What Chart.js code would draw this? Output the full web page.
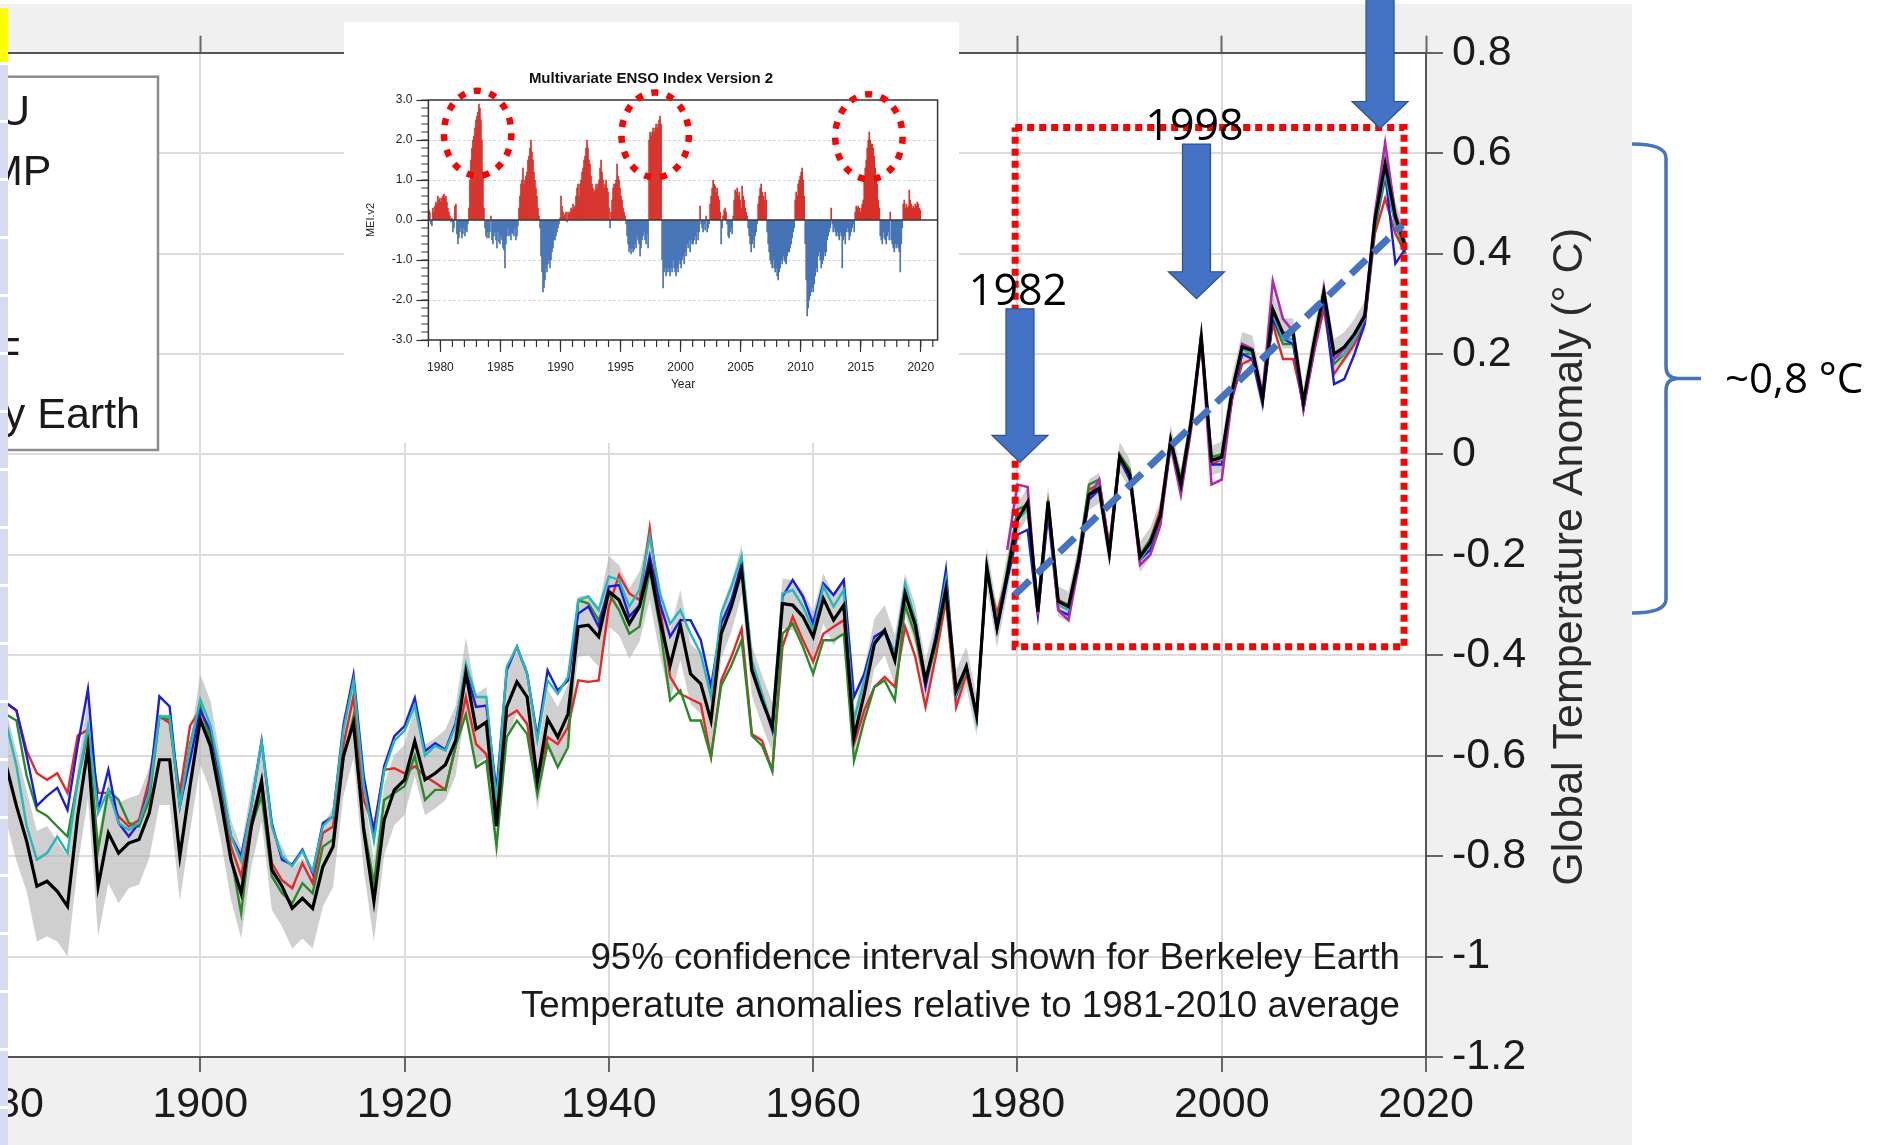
<!DOCTYPE html>
<html lang="en">
<head>
<meta charset="UTF-8">
<title>Global Temperature Anomaly and ENSO</title>
<script src="https://cdn.jsdelivr.net/npm/chart.js"></script>
<style>
  html, body { margin: 0; padding: 0; }
  body { width: 1879px; height: 1145px; overflow: hidden; position: relative; background: #fff; }
  #panel { position: absolute; left: 0; top: 4px; width: 1632px; height: 1141px; background: #f0f0f0; }
  #mainWrap { position: absolute; left: -200px; top: 0; width: 2079px; height: 1145px; }
  #stripTop { position: absolute; left: 0; top: 8px; width: 8px; height: 54px; background: #ffff00; }
  #strip { position: absolute; left: 0; top: 65px; width: 8px; height: 1080px;
           background: repeating-linear-gradient(to bottom, #d5dbf1 0 55px, #ffffff 55px 58px); }
  #inset { position: absolute; left: 344px; top: 22px; width: 615px; height: 421px; background: #fff; }
</style>
</head>
<body>
<div id="panel"></div>
<div id="mainWrap"><canvas id="tempChart" width="2079" height="1145"></canvas></div>
<div id="stripTop"></div>
<div id="strip"></div>
<div id="inset"><canvas id="meiChart" width="615" height="421"></canvas></div>

<script>
// ---- global temperature anomalies (°C, relative to 1981-2010), annual, from 1880 ----
const firstYear = 1880;

const berkeley = [
  -0.56, -0.62, -0.70, -0.77, -0.86, -0.85, -0.87, -0.90, -0.72, -0.585,
  -0.86, -0.754, -0.794, -0.774, -0.767, -0.714, -0.608, -0.608, -0.80, -0.66,
  -0.528, -0.581, -0.688, -0.807, -0.874, -0.741, -0.651, -0.827, -0.86, -0.904,
  -0.884, -0.904, -0.821, -0.781, -0.601, -0.535, -0.748, -0.89, -0.728, -0.668,
  -0.648, -0.571, -0.648, -0.635, -0.618, -0.57, -0.435, -0.547, -0.533, -0.74,
  -0.503, -0.453, -0.483, -0.65, -0.527, -0.563, -0.517, -0.343, -0.34, -0.363,
  -0.273, -0.29, -0.337, -0.303, -0.22, -0.33, -0.42, -0.34, -0.437, -0.457,
  -0.53, -0.357, -0.303, -0.23, -0.43, -0.49, -0.543, -0.297, -0.30, -0.323,
  -0.363, -0.287, -0.33, -0.30, -0.563, -0.477, -0.377, -0.35, -0.41, -0.277,
  -0.34, -0.45, -0.37, -0.268, -0.47, -0.423, -0.52, -0.225, -0.345, -0.24,
  -0.13, -0.095, -0.313, -0.094, -0.293, -0.303, -0.21, -0.08, -0.067, -0.197,
  -0.005, -0.04, -0.204, -0.176, -0.122, 0.029, -0.06, 0.063, 0.234, -0.012,
  -0.005, 0.125, 0.214, 0.207, 0.111, 0.289, 0.241, 0.241, 0.104, 0.22,
  0.323, 0.2, 0.214, 0.24, 0.275, 0.467, 0.579, 0.473, 0.412
];

// half width of the Berkeley Earth 95% interval
const berkeleyUnc = [
  0.11, 0.11, 0.11, 0.10, 0.11, 0.11, 0.10, 0.10, 0.10, 0.10,
  0.10, 0.10, 0.10, 0.09, 0.09, 0.09, 0.09, 0.09, 0.09, 0.09,
  0.09, 0.09, 0.08, 0.08, 0.09, 0.08, 0.08, 0.08, 0.08, 0.08,
  0.08, 0.08, 0.08, 0.08, 0.08, 0.07, 0.08, 0.08, 0.07, 0.07,
  0.07, 0.07, 0.07, 0.07, 0.07, 0.07, 0.07, 0.07, 0.07, 0.07,
  0.07, 0.06, 0.06, 0.06, 0.06, 0.06, 0.06, 0.06, 0.06, 0.06,
  0.07, 0.07, 0.07, 0.07, 0.07, 0.07, 0.07, 0.07, 0.06, 0.06,
  0.06, 0.05, 0.05, 0.05, 0.05, 0.05, 0.05, 0.05, 0.05, 0.05,
  0.05, 0.05, 0.05, 0.05, 0.05, 0.05, 0.05, 0.05, 0.05, 0.04,
  0.04, 0.04, 0.04, 0.04, 0.04, 0.04, 0.04, 0.04, 0.04, 0.04,
  0.03, 0.03, 0.03, 0.03, 0.03, 0.03, 0.03, 0.03, 0.03, 0.03,
  0.03, 0.03, 0.03, 0.03, 0.03, 0.03, 0.03, 0.03, 0.03, 0.03,
  0.03, 0.03, 0.03, 0.03, 0.03, 0.03, 0.03, 0.03, 0.03, 0.03,
  0.03, 0.03, 0.03, 0.03, 0.03, 0.03, 0.03, 0.03, 0.03
];

const gistemp = [
  -0.48, -0.495, -0.51, -0.60, -0.70, -0.68, -0.664, -0.708, -0.58, -0.468,
  -0.708, -0.628, -0.734, -0.761, -0.734, -0.668, -0.482, -0.502, -0.70, -0.608,
  -0.51, -0.55, -0.65, -0.76, -0.80, -0.70, -0.571, -0.734, -0.807, -0.817,
  -0.787, -0.834, -0.734, -0.721, -0.541, -0.439, -0.641, -0.754, -0.621, -0.561,
  -0.541, -0.485, -0.591, -0.575, -0.588, -0.535, -0.43, -0.503, -0.50, -0.67,
  -0.43, -0.383, -0.437, -0.563, -0.43, -0.47, -0.45, -0.317, -0.303, -0.343,
  -0.263, -0.26, -0.323, -0.30, -0.203, -0.297, -0.363, -0.33, -0.33, -0.37,
  -0.463, -0.337, -0.29, -0.217, -0.423, -0.483, -0.55, -0.283, -0.25, -0.283,
  -0.337, -0.257, -0.28, -0.25, -0.483, -0.437, -0.363, -0.35, -0.397, -0.27,
  -0.33, -0.463, -0.36, -0.23, -0.48, -0.42, -0.52, -0.225, -0.35, -0.25,
  -0.16, -0.15, -0.32, -0.12, -0.31, -0.32, -0.22, -0.09, -0.07, -0.2,
  -0.01, -0.05, -0.21, -0.19, -0.13, 0.02, -0.07, 0.06, 0.24, -0.02,
  -0.02, 0.11, 0.2, 0.19, 0.1, 0.27, 0.23, 0.22, 0.09, 0.21,
  0.31, 0.14, 0.15, 0.2, 0.26, 0.46, 0.56, 0.38, 0.41
];

const hadcru = [
  -0.48, -0.495, -0.51, -0.59, -0.635, -0.648, -0.635, -0.674, -0.56, -0.548,
  -0.674, -0.674, -0.721, -0.741, -0.728, -0.648, -0.522, -0.535, -0.674, -0.54,
  -0.508, -0.56, -0.66, -0.78, -0.84, -0.728, -0.648, -0.814, -0.848, -0.864,
  -0.814, -0.854, -0.754, -0.741, -0.58, -0.482, -0.688, -0.741, -0.628, -0.625,
  -0.635, -0.621, -0.641, -0.654, -0.668, -0.581, -0.483, -0.577, -0.597, -0.70,
  -0.523, -0.51, -0.537, -0.65, -0.563, -0.577, -0.543, -0.45, -0.453, -0.45,
  -0.303, -0.24, -0.277, -0.29, -0.147, -0.303, -0.443, -0.477, -0.487, -0.497,
  -0.603, -0.45, -0.403, -0.347, -0.557, -0.57, -0.63, -0.383, -0.323, -0.37,
  -0.413, -0.357, -0.343, -0.33, -0.577, -0.51, -0.463, -0.443, -0.463, -0.343,
  -0.403, -0.503, -0.403, -0.29, -0.503, -0.437, -0.517, -0.237, -0.317, -0.24,
  -0.12, -0.11, -0.31, -0.10, -0.29, -0.30, -0.21, -0.07, -0.06, -0.18,
  0.0, -0.04, -0.2, -0.17, -0.11, 0.03, -0.05, 0.07, 0.22, -0.02,
  -0.01, 0.11, 0.18, 0.19, 0.12, 0.26, 0.19, 0.19, 0.1, 0.2,
  0.29, 0.16, 0.19, 0.22, 0.26, 0.44, 0.51, 0.44, 0.40
];

const noaa = [
  -0.50, -0.518, -0.53, -0.64, -0.708, -0.72, -0.741, -0.761, -0.65, -0.555,
  -0.787, -0.668, -0.688, -0.734, -0.741, -0.688, -0.522, -0.528, -0.70, -0.575,
  -0.502, -0.57, -0.68, -0.80, -0.914, -0.741, -0.68, -0.84, -0.874, -0.894,
  -0.854, -0.874, -0.781, -0.767, -0.608, -0.522, -0.741, -0.854, -0.688, -0.674,
  -0.661, -0.60, -0.688, -0.668, -0.668, -0.581, -0.517, -0.623, -0.61, -0.78,
  -0.563, -0.53, -0.557, -0.677, -0.577, -0.623, -0.583, -0.29, -0.297, -0.33,
  -0.277, -0.31, -0.357, -0.343, -0.23, -0.343, -0.49, -0.47, -0.53, -0.53,
  -0.603, -0.46, -0.42, -0.37, -0.56, -0.58, -0.63, -0.357, -0.337, -0.383,
  -0.437, -0.37, -0.37, -0.357, -0.61, -0.53, -0.463, -0.45, -0.49, -0.30,
  -0.36, -0.46, -0.38, -0.28, -0.48, -0.43, -0.52, -0.23, -0.34, -0.23,
  -0.11, -0.10, -0.30, -0.09, -0.29, -0.30, -0.2, -0.06, -0.05, -0.19,
  0.0, -0.03, -0.2, -0.17, -0.12, 0.03, -0.05, 0.07, 0.23, -0.005,
  0.0, 0.12, 0.2, 0.2, 0.11, 0.27, 0.22, 0.22, 0.1, 0.21,
  0.31, 0.18, 0.2, 0.23, 0.27, 0.45, 0.55, 0.46, 0.40
];

const cowtanWay = [
  -0.50, -0.535, -0.62, -0.74, -0.807, -0.794, -0.761, -0.794, -0.65, -0.541,
  -0.714, -0.668, -0.734, -0.748, -0.734, -0.674, -0.522, -0.522, -0.70, -0.581,
  -0.488, -0.54, -0.64, -0.76, -0.81, -0.70, -0.571, -0.741, -0.80, -0.82,
  -0.79, -0.83, -0.74, -0.72, -0.55, -0.45, -0.66, -0.77, -0.63, -0.57,
  -0.55, -0.50, -0.60, -0.58, -0.59, -0.54, -0.417, -0.483, -0.483, -0.69,
  -0.423, -0.383, -0.437, -0.57, -0.45, -0.477, -0.443, -0.29, -0.283, -0.31,
  -0.243, -0.25, -0.303, -0.27, -0.163, -0.277, -0.337, -0.31, -0.357, -0.397,
  -0.483, -0.317, -0.263, -0.203, -0.41, -0.477, -0.543, -0.277, -0.27, -0.303,
  -0.35, -0.263, -0.303, -0.27, -0.53, -0.45, -0.37, -0.357, -0.397, -0.257,
  -0.33, -0.45, -0.363, -0.25, -0.477, -0.423, -0.53, -0.217, -0.337, -0.24,
  -0.13, -0.11, -0.31, -0.10, -0.30, -0.31, -0.21, -0.08, -0.06, -0.19,
  -0.01, -0.04, -0.21, -0.18, -0.125, 0.025, -0.06, 0.06, 0.23, -0.01,
  -0.01, 0.12, 0.21, 0.2, 0.11, 0.28, 0.23, 0.23, 0.1, 0.21,
  0.32, 0.19, 0.2, 0.23, 0.27, 0.46, 0.56, 0.46, 0.41
];

// reanalysis, only from 1979
const ecmwfStart = 1979;
const ecmwf = [
  -0.19, -0.06, -0.065, -0.32, -0.10, -0.31, -0.33, -0.22, -0.085, -0.05,
  -0.19, -0.005, -0.04, -0.22, -0.20, -0.14, 0.02, -0.08, 0.05, 0.23,
  -0.06, -0.05, 0.11, 0.22, 0.21, 0.12, 0.345, 0.27, 0.245, 0.09,
  0.2, 0.33, 0.19, 0.21, 0.24, 0.28, 0.48, 0.62, 0.48, 0.42
];

const legendLabels = ['HadCRU', 'GISTEMP', 'NOAA', 'JMA', 'ECMWF', 'Berkeley Earth'];
const notes = [
  '95% confidence interval shown for Berkeley Earth',
  'Temperatute anomalies relative to 1981-2010 average'
];

// annotations on the recent period
const trendYears = [1979.72, 2017.7];
const trendValues = [-0.28, 0.457];
const boxYears = [1979.78, 2017.85];
const boxValues = [0.651, -0.383];
const arrowYears = [1980.25, 1997.53, 2015.5];
const arrowTips = [-0.016, 0.31, 0.649];
const arrowTops = [0.29, 0.618, 0.95];
const arrowLabels = ['1982', '1998', ''];
const braceValues = [0.618, -0.316];
const braceLabel = '~0,8 °C';
const yTitle = 'Global Temperature Anomaly (° C)';

// ---- Multivariate ENSO Index v2, monthly from Jan 1979 ----
const meiStart = 1979;
const meiV2 = [
  0.25, 0.2, -0.1, -0.15, 0.3, 0.2, 0.35, 0.45, 0.4, 0.6, 0.5, 0.55,
  0.45, 0.55, 0.6, 0.65, 0.55, 0.6, 0.45, 0.3, 0.2, 0.1, -0.05, 0.05,
  -0.3, -0.2, 0.35, 0.4, -0.35, -0.6, -0.45, -0.3, -0.2, -0.45, -0.35, -0.2,
  -0.4, -0.25, -0.3, -0.1, 0.3, 1.0, 1.5, 1.8, 2.0, 2.1, 2.3, 2.5,
  2.6, 2.7, 2.9, 2.8, 2.5, 2.0, 1.2, 0.3, -0.2, -0.4, -0.45, -0.3,
  -0.45, -0.3, 0.1, -0.5, -0.6, -0.4, -0.3, -0.5, -0.7, -0.3, -0.55, -0.6,
  -0.4, -0.5, -0.7, -0.75, -1.2, -0.6, -0.4, -0.2, -0.4, -0.35, -0.5, -0.3,
  -0.35, -0.4, -0.2, -0.5, -0.4, -0.15, 0.3, 0.6, 0.9, 1.0, 1.3, 0.9,
  1.0, 1.1, 1.2, 1.5, 1.6, 1.8, 2.0, 1.7, 1.5, 1.2, 1.0, 0.8,
  0.6, 0.3, 0.1, -0.2, -0.9, -1.3, -1.8, -1.7, -1.5, -1.2, -1.3, -1.1,
  -1.0, -1.2, -1.0, -0.8, -0.7, -0.5, -0.5, -0.4, -0.3, -0.2, -0.1, 0.05,
  0.6, 0.35, 0.2, 0.1, 0.15, 0.2, -0.05, 0.2, 0.15, 0.2, 0.3, 0.25,
  0.4, 0.3, 0.35, 0.6, 0.8, 0.9, 0.6, 0.9, 1.0, 1.2, 1.3, 1.5,
  1.6, 1.8, 2.0, 1.8, 1.5, 1.4, 1.1, 0.9, 0.8, 0.7, 0.75, 0.9,
  0.8, 0.9, 1.0, 1.3, 1.5, 1.2, 1.0, 0.8, 0.9, 1.0, 0.8, 0.7,
  0.3, -0.2, 0.2, 0.5, 0.8, 0.9, 0.9, 1.0, 1.4, 1.1, 1.0, 0.8,
  0.6, 0.5, 0.3, 0.2, 0.1, -0.1, -0.4, -0.6, -0.8, -0.7, -0.85, -0.7,
  -0.8, -0.75, -0.6, -0.7, -0.4, -0.5, -0.6, -0.9, -0.7, -0.5, -0.4, -0.3,
  -0.5, -0.6, -0.35, -0.7, 2.0, 2.2, 2.1, 2.2, 2.3, 2.2, 2.3, 2.4,
  2.3, 2.4, 2.5, 2.6, 2.4, -1.0, -1.7, -1.3, -1.2, -1.4, -1.3, -1.2,
  -1.3, -1.4, -1.2, -1.3, -1.0, -1.2, -1.3, -1.4, -1.2, -1.3, -1.0, -1.1,
  -1.2, -1.0, -0.9, -1.1, -0.8, -0.9, -0.6, -0.7, -0.5, -0.8, -0.5, -0.6,
  -0.6, -0.5, -0.4, -0.6, -0.3, -0.5, -0.3, 0.35, -0.1, -0.2, -0.3, -0.1,
  -0.25, 0.1, -0.3, -0.2, -0.1, 0.4, 0.6, 0.8, 1.0, 0.9, 0.85, 0.7,
  0.8, 0.6, 0.5, 0.2, -0.6, -0.2, 0.1, 0.25, 0.3, 0.2, -0.1, -0.4,
  -0.45, -0.3, -0.2, -0.35, 0.1, 0.5, 0.75, 0.7, 0.8, 0.6, 0.7, 0.5,
  0.3, 0.85, 0.6, 0.5, 0.3, 0.2, 0.1, -0.2, -0.4, -0.6, -0.8, -0.6,
  -0.5, -0.7, -0.4, -0.3, -0.1, 0.4, 0.6, 0.8, 0.9, 0.7, 0.6, 0.5,
  0.7, 0.5, -0.3, -0.6, -0.8, -1.0, -1.1, -1.2, -1.0, -1.2, -1.3, -1.2,
  -1.4, -1.5, -1.3, -1.2, -1.0, -1.1, -0.9, -1.0, -1.05, -1.1, -0.9, -0.8,
  -0.8, -0.7, -0.6, -0.45, -0.3, -0.2, 0.5, 0.7, 0.6, 0.9, 1.0, 1.1,
  1.2, 1.3, 1.0, 0.6, -0.6, -1.5, -2.4, -2.2, -2.0, -1.9, -1.8, -1.7,
  -1.8, -1.6, -1.4, -1.2, -1.3, -0.9, -0.8, -1.0, -1.2, -1.1, -1.0, -0.8,
  -0.9, -0.8, -0.5, -0.4, -0.3, -0.2, 0.3, -0.1, -0.3, -0.2, -0.3, -0.4,
  -0.3, -0.4, -0.5, -0.3, -0.4, -1.2, -0.5, -0.4, -0.6, -0.3, -0.2, -0.3,
  -0.5, -0.4, -0.3, -0.2, -0.1, -0.3, 0.2, 0.35, 0.3, 0.35, 0.3, 0.2,
  0.3, 0.4, 0.5, 1.0, 1.3, 1.5, 1.8, 2.0, 2.2, 2.0, 1.9, 1.9,
  1.8, 1.6, 1.3, 1.1, 0.9, 0.5, 0.3, -0.4, -0.5, -0.6, -0.3, -0.45,
  -0.5, -0.6, -0.4, -0.3, -0.5, 0.2, -0.5, -0.6, -0.7, -0.8, -0.6, -0.7,
  -0.6, -0.7, -0.8, -1.3, -0.6, -0.2, 0.4, 0.5, 0.3, 0.4, 0.3, 0.35,
  0.75, 0.5, 0.4, 0.3, 0.35, 0.3, 0.4, 0.35, 0.45, 0.4, 0.3, 0.25
];
const meiGridValues = [-2, -1, 1, 2];
const circleYears = [1983.1, 1997.88, 2015.68];
const circleValues = [2.17, 2.125, 2.08];

// ---------------------------------------------------------------
Chart.defaults.font.family = '"Liberation Sans", Arial, sans-serif';

const years = berkeley.map((_, i) => firstYear + i);
const toPoints = arr => arr.map((v, i) => ({ x: years[i], y: v }));
const band = sign => berkeley.map((v, i) => ({ x: years[i], y: v + sign * berkeleyUnc[i] }));

const boxPath = [
  { x: boxYears[0], y: boxValues[0] }, { x: boxYears[1], y: boxValues[0] },
  { x: boxYears[1], y: boxValues[1] }, { x: boxYears[0], y: boxValues[1] },
  { x: boxYears[0], y: boxValues[0] }
];

function series(label, data, color, width, order, dash) {
  return { label, data, borderColor: color, borderWidth: width, pointRadius: 0, tension: 0,
           fill: false, order, borderDash: dash || [], borderCapStyle: 'butt', borderJoinStyle: 'miter' };
}

function drawArrow(ctx, cx, top, tip) {
  const sw = 14, hw = 28, hh = 27;
  ctx.beginPath();
  ctx.moveTo(cx - sw, top);
  ctx.lineTo(cx + sw, top);
  ctx.lineTo(cx + sw, tip - hh);
  ctx.lineTo(cx + hw, tip - hh);
  ctx.lineTo(cx, tip);
  ctx.lineTo(cx - hw, tip - hh);
  ctx.lineTo(cx - sw, tip - hh);
  ctx.closePath();
  ctx.fillStyle = '#4472c4';
  ctx.fill();
  ctx.strokeStyle = '#2f528f';
  ctx.lineWidth = 1.2;
  ctx.stroke();
}

const tempDecor = {
  id: 'tempDecor',
  beforeDraw(chart) {
    const { ctx, chartArea: a } = chart;
    ctx.save();
    ctx.fillStyle = '#ffffff';
    ctx.fillRect(a.left, a.top, a.right - a.left, a.bottom - a.top);
    ctx.restore();
  },
  afterDraw(chart) {
    const { ctx, chartArea: a, scales: { x, y } } = chart;
    ctx.save();

    // footnotes
    ctx.font = '36.7px "Liberation Sans", Arial, sans-serif';
    ctx.fillStyle = '#1a1a1a';
    ctx.textAlign = 'right';
    ctx.textBaseline = 'middle';
    ctx.fillText(notes[0], a.right - 26, a.bottom - 98);
    ctx.fillText(notes[1], a.right - 26, a.bottom - 50);

    // legend box
    ctx.fillStyle = '#ffffff';
    ctx.fillRect(0, 76.7, 358, 373.3);
    ctx.strokeStyle = '#8c8c8c';
    ctx.lineWidth = 2.5;
    ctx.strokeRect(-5, 76.7, 363, 373.3);
    ctx.font = '43px "Liberation Sans", Arial, sans-serif';
    ctx.fillStyle = '#1a1a1a';
    ctx.textAlign = 'left';
    legendLabels.forEach((t, i) => ctx.fillText(t, 58, 113 + i * 60.6));

    // y axis title, reading upwards
    ctx.save();
    ctx.translate(a.right + 144, (a.top + a.bottom) / 2 + 2);
    ctx.rotate(-Math.PI / 2);
    ctx.textAlign = 'center';
    ctx.fillStyle = '#2b2b2b';
    ctx.fillText(yTitle, 0, 0);
    ctx.restore();

    // arrows and their years
    arrowYears.forEach((yr, i) => {
      const cx = x.getPixelForValue(yr);
      const top = y.getPixelForValue(arrowTops[i]);
      drawArrow(ctx, cx, top, y.getPixelForValue(arrowTips[i]));
      if (arrowLabels[i]) {
        ctx.font = '43px "Open Sans", sans-serif';
        ctx.fillStyle = '#000';
        ctx.textAlign = 'center';
        ctx.textBaseline = 'alphabetic';
        ctx.fillText(arrowLabels[i], cx - 2, top - 4);
      }
    });

    // brace spanning the rise
    const yTop = y.getPixelForValue(braceValues[0]);
    const yBot = y.getPixelForValue(braceValues[1]);
    const yMid = (yTop + yBot) / 2;
    const x0 = a.right + 206, xv = a.right + 240, xt = a.right + 275;
    ctx.beginPath();
    ctx.moveTo(x0, yTop);
    ctx.quadraticCurveTo(xv, yTop, xv, yTop + 14);
    ctx.lineTo(xv, yMid - 12);
    ctx.quadraticCurveTo(xv, yMid, xv + 12, yMid);
    ctx.lineTo(xt, yMid);
    ctx.moveTo(xv + 12, yMid);
    ctx.quadraticCurveTo(xv, yMid, xv, yMid + 12);
    ctx.lineTo(xv, yBot - 14);
    ctx.quadraticCurveTo(xv, yBot, x0, yBot);
    ctx.strokeStyle = '#4472c4';
    ctx.lineWidth = 3.5;
    ctx.stroke();

    ctx.font = '42px "Open Sans", sans-serif';
    ctx.fillStyle = '#000';
    ctx.textAlign = 'left';
    ctx.textBaseline = 'middle';
    ctx.fillText(braceLabel, a.right + 299, yMid + 2);

    ctx.restore();
  }
};

new Chart(document.getElementById('tempChart'), {
  type: 'line',
  data: {
    datasets: [
      { label: 'upper', data: band(1), borderWidth: 0, pointRadius: 0, fill: '+1',
        backgroundColor: 'rgba(175,175,175,0.6)', order: 20 },
      { label: 'lower', data: band(-1), borderWidth: 0, pointRadius: 0, fill: false, order: 21 },
      series('trend', trendYears.map((yr, i) => ({ x: yr, y: trendValues[i] })), '#4472c4', 7, 0, [21, 10]),
      series('box', boxPath, '#ff0000', 7, 1, [7, 5]),
      series('Berkeley Earth', toPoints(berkeley), '#000000', 3.2, 2),
      series('ECMWF', ecmwf.map((v, i) => ({ x: ecmwfStart + i, y: v })), '#b02ab0', 2.6, 3),
      series('Cowtan & Way', toPoints(cowtanWay), '#26b8b8', 2.4, 4),
      series('GISTEMP', toPoints(gistemp), '#1c1ce0', 2.4, 5),
      series('NOAA', toPoints(noaa), '#2a8a2a', 2.4, 6),
      series('HadCRU', toPoints(hadcru), '#e62828', 2.4, 7)
    ]
  },
  options: {
    responsive: false,
    animation: false,
    devicePixelRatio: 1,
    layout: { padding: { left: 196, right: 333, top: 35.7, bottom: 0 } },
    plugins: { legend: { display: false }, tooltip: { enabled: false } },
    scales: {
      x: {
        type: 'linear', min: 1880, max: 2020,
        grid: { color: '#dcdcdc', lineWidth: 2, tickLength: 15, tickColor: '#666', tickWidth: 2 },
        border: { color: '#555', width: 2 },
        ticks: { stepSize: 20, padding: 7, maxRotation: 0, font: { size: 43 }, color: '#1a1a1a',
                 callback: v => String(v) },
        afterFit: s => { s.height = 88; }
      },
      x2: {
        type: 'linear', position: 'top', min: 1880, max: 2020,
        grid: { drawOnChartArea: false, tickLength: 17, tickColor: '#666', tickWidth: 2 },
        border: { color: '#555', width: 2 },
        ticks: { stepSize: 20, display: false },
        afterFit: s => { s.height = 17; }
      },
      y: {
        position: 'right', min: -1.2, max: 0.8,
        grid: { color: '#dcdcdc', lineWidth: 2, tickLength: 17, tickColor: '#666', tickWidth: 2 },
        border: { color: '#555', width: 2 },
        ticks: { stepSize: 0.2, padding: 9, font: { size: 43 }, color: '#1a1a1a',
                 callback: v => Math.abs(v) < 1e-9 ? '0' : String(parseFloat(v.toFixed(1))) },
        afterFit: s => { s.width = 120; }
      }
    }
  },
  plugins: [tempDecor]
});

// ---------------------------------------------------------------
const meiPoints = meiV2.map((v, i) => ({ x: meiStart + i / 12 + 1 / 24, y: v }));

const meiDecor = {
  id: 'meiDecor',
  beforeDatasetsDraw(chart) {
    const { ctx, chartArea: a, scales: { y } } = chart;
    ctx.save();
    ctx.strokeStyle = '#c4c4c4';
    ctx.lineWidth = 1;
    ctx.setLineDash([2, 3]);
    meiGridValues.forEach(v => {
      const py = Math.round(y.getPixelForValue(v)) + 0.5;
      ctx.beginPath(); ctx.moveTo(a.left, py); ctx.lineTo(a.right, py); ctx.stroke();
    });
    ctx.restore();
  },
  afterDatasetsDraw(chart) {
    const { ctx, chartArea: a, scales: { x, y } } = chart;
    ctx.save();
    ctx.strokeStyle = '#333';
    ctx.lineWidth = 1.5;
    const y0 = y.getPixelForValue(0);
    ctx.beginPath(); ctx.moveTo(a.left, y0); ctx.lineTo(a.right, y0); ctx.stroke();
    ctx.strokeRect(a.left, a.top, a.right - a.left, a.bottom - a.top);

    // minor ticks
    ctx.lineWidth = 1.2;
    ctx.beginPath();
    for (let k = -15; k <= 15; k++) {
      const py = y.getPixelForValue(k / 5);
      ctx.moveTo(a.left - 7, py); ctx.lineTo(a.left, py);
    }
    for (let yr = 1979; yr <= 2021; yr++) {
      const px = x.getPixelForValue(yr);
      ctx.moveTo(px, a.bottom); ctx.lineTo(px, a.bottom + 7);
    }
    ctx.stroke();

    // dotted rings around the strongest events
    ctx.strokeStyle = '#ff0000';
    ctx.lineWidth = 6.5;
    ctx.setLineDash([7, 9]);
    circleYears.forEach((yr, i) => {
      ctx.beginPath();
      ctx.ellipse(x.getPixelForValue(yr), y.getPixelForValue(circleValues[i]), 33.7, 42.5, 0, 0, Math.PI * 2);
      ctx.stroke();
    });
    ctx.restore();
  }
};

new Chart(document.getElementById('meiChart'), {
  type: 'bar',
  data: {
    datasets: [{
      data: meiPoints,
      backgroundColor: c => (c.raw && c.raw.y >= 0) ? '#d7312a' : '#4674b6',
      borderWidth: 0,
      barPercentage: 1,
      categoryPercentage: 1,
      grouped: false
    }]
  },
  options: {
    responsive: false,
    animation: false,
    devicePixelRatio: 1,
    layout: { padding: { left: 20.4, top: 48.3, right: 21.4, bottom: 50.8 } },
    plugins: {
      legend: { display: false },
      tooltip: { enabled: false },
      title: { display: true, text: 'Multivariate ENSO Index Version 2', color: '#111',
               font: { size: 15, weight: 'bold' }, padding: { top: 0, bottom: 11.7 } }
    },
    scales: {
      x: {
        type: 'linear', min: 1979, max: 2021.4, offset: false,
        grid: { drawOnChartArea: false, offset: false, tickLength: 12, tickColor: '#333', tickWidth: 1.2 },
        border: { display: false },
        ticks: { stepSize: 5, includeBounds: false, padding: 8, maxRotation: 0, autoSkip: false,
                 font: { size: 12 }, color: '#222', callback: v => String(v) },
        title: { display: true, text: 'Year', font: { size: 12 }, color: '#222', padding: { top: 5.8, bottom: 0 } },
        afterFit: s => { s.height = 52.2; }
      },
      y: {
        min: -3, max: 3,
        grid: { drawOnChartArea: false, tickLength: 12, tickColor: '#333', tickWidth: 1.2 },
        border: { display: false },
        ticks: { stepSize: 1, padding: 4, font: { size: 12 }, color: '#222', callback: v => v.toFixed(1) },
        title: { display: true, text: 'MEI.v2', font: { size: 11 }, color: '#222', padding: { top: 0, bottom: 0 } },
        afterFit: s => { s.width = 64; }
      }
    }
  },
  plugins: [meiDecor]
});
</script>
</body>
</html>
